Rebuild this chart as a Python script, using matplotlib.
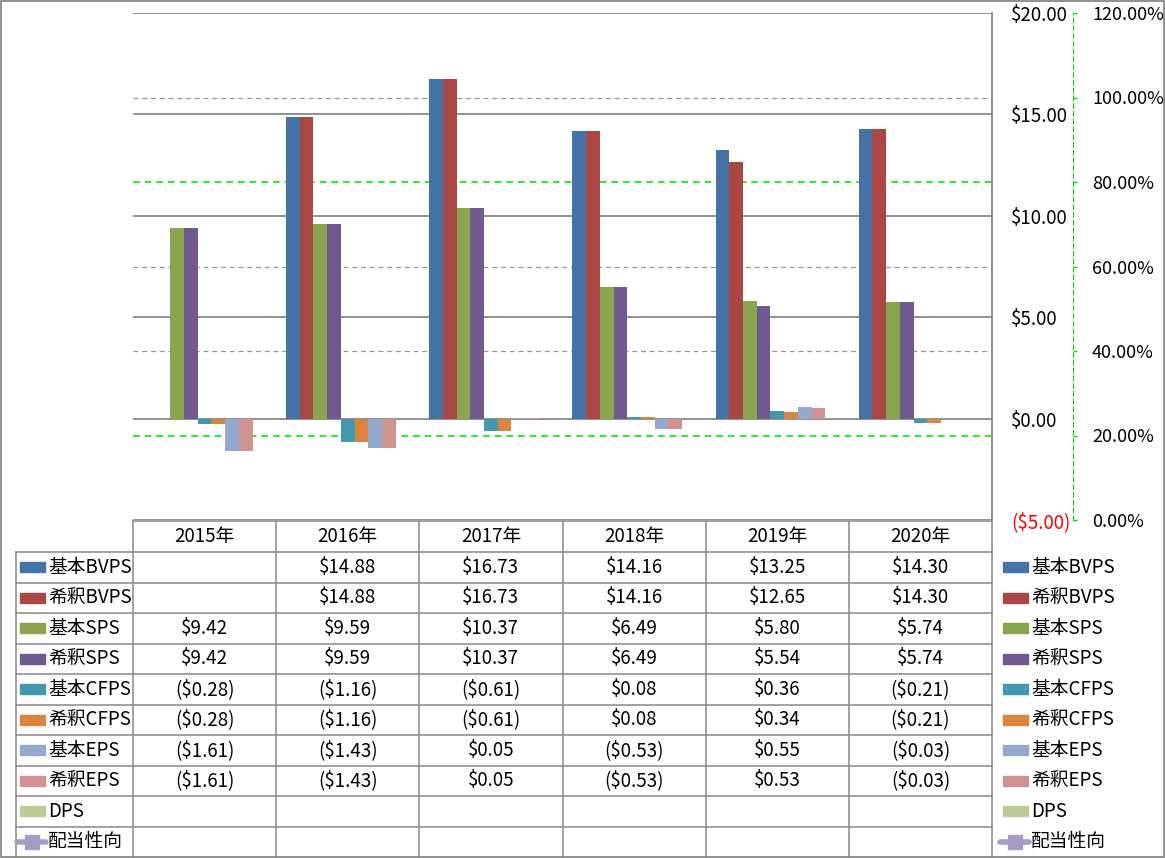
import matplotlib
matplotlib.use('Agg')
import matplotlib.pyplot as plt
import matplotlib.patches as mpatches
import numpy as np

plt.rcParams['font.family'] = ['Noto Sans CJK JP', 'DejaVu Sans']
plt.rcParams['font.size'] = 13.5

nan = np.nan
years = ['2015年', '2016年', '2017年', '2018年', '2019年', '2020年']
names = ['基本BVPS', '希釈BVPS', '基本SPS', '希釈SPS', '基本CFPS', '希釈CFPS',
         '基本EPS', '希釈EPS', 'DPS']
bvps_basic = [nan, 14.88, 16.73, 14.16, 13.25, 14.30]
bvps_dil = [nan, 14.88, 16.73, 14.16, 12.65, 14.30]
sps_basic = [9.42, 9.59, 10.37, 6.49, 5.80, 5.74]
sps_dil = [9.42, 9.59, 10.37, 6.49, 5.54, 5.74]
cfps_basic = [-0.28, -1.16, -0.61, 0.08, 0.36, -0.21]
cfps_dil = [-0.28, -1.16, -0.61, 0.08, 0.34, -0.21]
eps_basic = [-1.61, -1.43, 0.05, -0.53, 0.55, -0.03]
eps_dil = [-1.61, -1.43, 0.05, -0.53, 0.53, -0.03]
dps = [nan] * 6
payout_name = '配当性向'
payout = [nan] * 6

series = [bvps_basic, bvps_dil, sps_basic, sps_dil, cfps_basic, cfps_dil,
          eps_basic, eps_dil, dps]
colors = ['#4572A7', '#AA4643', '#89A54E', '#71588F', '#4198AF', '#DB843D',
          '#93A9CF', '#D19392', '#B9CD96']
payout_color = '#A99BC2'

primary_ticks = [-5, 0, 5, 10, 15, 20]
secondary_ticks = [0.0, 0.2, 0.4, 0.6, 0.8, 1.0, 1.2]
highlight_levels = [0.2, 0.8]

W, H = 1165, 858
fig = plt.figure(figsize=(W / 100, H / 100), dpi=100)
PT = 72 / 100  # points per pixel


def rect(x0, y0, x1, y1):
    # pixel box (top-left origin) -> figure fraction
    return [x0 / W, 1 - y1 / H, (x1 - x0) / W, (y1 - y0) / H]


def money(v):
    return '(${:.2f})'.format(-v) if v < 0 else '${:.2f}'.format(v)


grid_gray = '#888888'

# main chart
ax = fig.add_axes(rect(133, 13, 992, 520))
ax2 = ax.twinx()
ax.set_zorder(ax2.get_zorder() + 1)
ax.patch.set_visible(False)

x = np.arange(len(years))
gap = 1.44
w = 1 / (len(series) + gap)
for i, (vals, c) in enumerate(zip(series, colors)):
    ax.bar(x - 0.5 + w * gap / 2 + w * (i + 0.5), vals, width=w, color=c,
           zorder=3, linewidth=0)
ax.set_xlim(-0.5, len(years) - 0.5)
ax.set_ylim(-5, 20)
ax.yaxis.tick_right()
ax.set_yticks(primary_ticks)
ax.set_yticklabels([money(t) for t in primary_ticks])
ax.tick_params(axis='y', length=0, pad=19 * PT)
for tk, t in zip(ax.yaxis.get_major_ticks(), primary_ticks):
    tk.label2.set_horizontalalignment('left')
    if t < 0:
        tk.label2.set_color('red')
ax.set_xticks([])
for t in primary_ticks:
    ax.axhline(t, color=grid_gray, lw=1.3, zorder=1)
for s in ['top', 'left', 'bottom']:
    ax.spines[s].set_visible(False)
ax.spines['right'].set_color(grid_gray)
ax.spines['right'].set_linewidth(1.3)

# secondary axis (payout ratio)
ax2.plot(x, payout, color=payout_color, marker='s')
ax2.set_ylim(0, 1.2)
ax2.set_yticks(secondary_ticks)
ax2.set_yticklabels(['{:.2f}%'.format(t * 100) for t in secondary_ticks])
for s in ['top', 'left', 'bottom']:
    ax2.spines[s].set_visible(False)
ax2.spines['right'].set_position(('axes', (1073 - 133) / (992 - 133)))
ax2.spines['right'].set_color('#00DD00')
ax2.spines['right'].set_linestyle((0, (4, 3)))
ax2.tick_params(axis='y', colors='#00DD00', labelcolor='black',
                length=4 * PT, width=1, pad=15 * PT, labelsize=13)
for t in secondary_ticks[1:-1]:
    if t in highlight_levels:
        ax2.axhline(t, color='#00EE00', lw=1.2, ls=(0, (4, 3)), zorder=0)
    else:
        ax2.axhline(t, color='#999999', lw=0.9, ls=(0, (4, 3)), zorder=0)

# data table + legend
tab = fig.add_axes([0, 0, 1, 1])
tab.set_xlim(0, W)
tab.set_ylim(H, 0)
tab.axis('off')
tab.patch.set_visible(False)

col_edges = np.linspace(133, 992, len(years) + 1)
head_top, head_bot = 521, 552
row_h = 30.5
n_rows = len(names) + 1
row_edges = head_bot + row_h * np.arange(n_rows + 1)
line_kw = dict(color=grid_gray, lw=1.1)

tab.plot([col_edges[0], col_edges[-1]], [head_top, head_top], **line_kw)
for y in row_edges[:-1]:
    tab.plot([16, col_edges[-1]], [y, y], **line_kw)
for xe in col_edges:
    tab.plot([xe, xe], [head_top, H], **line_kw)
tab.plot([16, 16], [head_bot, H], **line_kw)

for j, yr in enumerate(years):
    tab.text((col_edges[j] + col_edges[j + 1]) / 2, (head_top + head_bot) / 2,
             yr, ha='center', va='center')

for i, (name, vals, c) in enumerate(zip(names, series, colors)):
    yc = (row_edges[i] + row_edges[i + 1]) / 2
    for xs, xt in [(20, 48), (1003, 1031)]:
        tab.add_patch(mpatches.Rectangle((xs, yc - 5), 25, 10, color=c))
        tab.text(xt, yc, name, ha='left', va='center')
    for j, v in enumerate(vals):
        if not np.isnan(v):
            tab.text((col_edges[j] + col_edges[j + 1]) / 2, yc, money(v),
                     ha='center', va='center')

yc = (row_edges[-2] + row_edges[-1]) / 2
for xs, xt in [(17, 48), (1000, 1031)]:
    tab.plot([xs, xs + 29], [yc, yc], color=payout_color, lw=4,
             solid_capstyle='round')
    tab.plot([xs + 14.5], [yc], marker='s', ms=9.5, color=payout_color)
    tab.text(xt, yc, payout_name, ha='left', va='center')

# outer border
tab.add_patch(mpatches.Rectangle((1, 1), W - 2.5, H - 2.5, fill=False,
                                 edgecolor=grid_gray, lw=1.3))

fig.savefig('out.png', dpi=100)
